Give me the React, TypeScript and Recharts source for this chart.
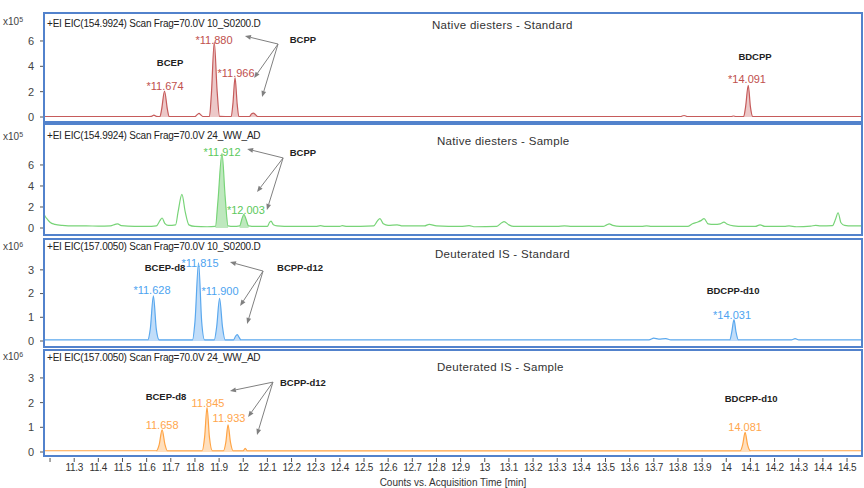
import React from "react";
import { ComposedChart, Area, Line, XAxis, YAxis, ReferenceDot, ReferenceLine } from "recharts";

const FONT = "'Liberation Sans', Arial, sans-serif";
const T_MIN = 11.175;
const T_MAX = 14.562;

const TIME_TICKS = [11.2, 11.3, 11.4, 11.5, 11.6, 11.7, 11.8, 11.9, 12, 12.1, 12.2, 12.3, 12.4, 12.5, 12.6, 12.7, 12.8, 12.9, 13, 13.1, 13.2, 13.3, 13.4, 13.5, 13.6, 13.7, 13.8, 13.9, 14, 14.1, 14.2, 14.3, 14.4, 14.5];
const TIME_TICK_LABELS = ["", "11.3", "11.4", "11.5", "11.6", "11.7", "11.8", "11.9", "12", "12.1", "12.2", "12.3", "12.4", "12.5", "12.6", "12.7", "12.8", "12.9", "13", "13.1", "13.2", "13.3", "13.4", "13.5", "13.6", "13.7", "13.8", "13.9", "14", "14.1", "14.2", "14.3", "14.4", "14.5"];
const X_TITLE = "Counts vs. Acquisition Time [min]";

type Pt = [number, number];
type Ann = { t: number; v: number; text: string };
type Arr = { from: Pt; to: Pt };

// ---------- Panel 1 : Native diesters - Standard (x10^5) ----------
const NATIVE_STD_TRACE: Pt[] = [
  [11.175, 0.03], [11.6, 0.03], [11.62, 0.05], [11.63, 0.15], [11.64, 0.05], [11.655, 0.03],
  [11.662, 0.6], [11.674, 2.05], [11.686, 0.6], [11.693, 0.03], [11.8, 0.03], [11.81, 0.2],
  [11.817, 0.28], [11.825, 0.15], [11.835, 0.03], [11.86, 0.03], [11.868, 1.8], [11.88, 5.9],
  [11.892, 2.0], [11.902, 0.05], [11.95, 0.03], [11.957, 1.0], [11.966, 3.1], [11.975, 1.0],
  [11.982, 0.03], [12.025, 0.03], [12.035, 0.25], [12.042, 0.3], [12.05, 0.2], [12.06, 0.03],
  [13.81, 0.03], [13.825, 0.12], [13.84, 0.03], [14.02, 0.03], [14.03, 0.08], [14.04, 0.03],
  [14.072, 0.03], [14.08, 0.8], [14.091, 2.5], [14.1, 0.8], [14.11, 0.03], [14.562, 0.03],
];
const NATIVE_STD_FILLS: Pt[] = [[11.655, 11.693], [11.86, 11.902], [11.95, 11.982], [12.025, 12.06], [14.072, 14.11]];
const NATIVE_STD_PEAKS: Ann[] = [
  { t: 11.676, v: 2.45, text: "*11.674" },
  { t: 11.879, v: 6.08, text: "*11.880" },
  { t: 11.97, v: 3.47, text: "*11.966" },
  { t: 14.086, v: 3.0, text: "*14.091" },
];
const NATIVE_STD_NAMES: Ann[] = [
  { t: 11.697, v: 4.34, text: "BCEP" },
  { t: 12.247, v: 6.08, text: "BCPP" },
  { t: 14.119, v: 4.81, text: "BDCPP" },
];
const NATIVE_STD_ARROWS: Arr[] = [
  { from: [12.144, 5.76], to: [12.007, 6.39] },
  { from: [12.144, 5.76], to: [12.045, 3.08] },
  { from: [12.144, 5.76], to: [12.078, 1.58] },
];

// ---------- Panel 2 : Native diesters - Sample (x10^5) ----------
const NATIVE_SMP_TRACE: Pt[] = [
  [11.175, 1.3], [11.18, 1.1], [11.19, 0.8], [11.2, 0.55], [11.22, 0.35], [11.25, 0.25], [11.3, 0.2],
  [11.35, 0.2], [11.4, 0.18], [11.45, 0.2], [11.47, 0.35], [11.48, 0.4], [11.495, 0.22], [11.55, 0.15],
  [11.6, 0.15], [11.64, 0.2], [11.655, 0.7], [11.664, 0.95], [11.675, 0.45], [11.69, 0.25], [11.72, 0.3],
  [11.73, 1.5], [11.746, 3.2], [11.76, 1.5], [11.775, 0.3], [11.8, 0.15], [11.85, 0.12], [11.885, 0.15],
  [11.895, 2.5], [11.912, 7.1], [11.925, 3.0], [11.937, 0.2], [11.96, 0.15], [11.985, 0.2], [11.995, 0.9],
  [12.003, 1.3], [12.012, 0.8], [12.022, 0.2], [12.05, 0.15], [12.1, 0.15], [12.108, 0.5], [12.115, 0.65],
  [12.125, 0.3], [12.14, 0.2], [12.2, 0.15], [12.3, 0.15], [12.32, 0.22], [12.34, 0.15], [12.4, 0.15],
  [12.41, 0.22], [12.43, 0.15], [12.54, 0.2], [12.555, 0.65], [12.566, 0.9], [12.58, 0.4], [12.6, 0.25],
  [12.637, 0.3], [12.66, 0.2], [12.75, 0.2], [12.77, 0.35], [12.8, 0.2], [12.9, 0.15], [12.935, 0.22],
  [12.96, 0.12], [13.05, 0.15], [13.07, 0.5], [13.08, 0.6], [13.1, 0.3], [13.12, 0.15], [13.3, 0.15],
  [13.33, 0.2], [13.36, 0.15], [13.49, 0.15], [13.505, 0.3], [13.515, 0.4], [13.53, 0.25], [13.56, 0.15],
  [13.65, 0.15], [13.67, 0.2], [13.69, 0.15], [13.84, 0.15], [13.86, 0.4], [13.88, 0.55], [13.895, 0.7],
  [13.908, 0.9], [13.925, 0.4], [13.95, 0.35], [13.975, 0.4], [13.99, 0.55], [14.005, 0.35], [14.03, 0.2],
  [14.07, 0.15], [14.12, 0.15], [14.14, 0.3], [14.16, 0.15], [14.24, 0.15], [14.26, 0.2], [14.29, 0.12],
  [14.35, 0.18], [14.37, 0.25], [14.39, 0.2], [14.44, 0.22], [14.452, 0.8], [14.463, 1.45], [14.475, 0.5],
  [14.49, 0.25], [14.52, 0.2], [14.562, 0.2],
];
const NATIVE_SMP_FILLS: Pt[] = [[11.885, 11.937], [11.985, 12.022]];
const NATIVE_SMP_PEAKS: Ann[] = [
  { t: 11.912, v: 7.24, text: "*11.912" },
  { t: 12.011, v: 1.71, text: "*12.003" },
];
const NATIVE_SMP_NAMES: Ann[] = [{ t: 12.247, v: 7.14, text: "BCPP" }];
const NATIVE_SMP_ARROWS: Arr[] = [
  { from: [12.165, 6.67], to: [12.016, 7.52] },
  { from: [12.165, 6.67], to: [12.057, 3.43] },
  { from: [12.165, 6.67], to: [12.098, 1.71] },
];

// ---------- Panel 3 : Deuterated IS - Standard (x10^6) ----------
const DEUT_STD_TRACE: Pt[] = [
  [11.175, 0.05], [11.605, 0.05], [11.615, 0.5], [11.628, 1.9], [11.64, 0.5], [11.652, 0.05],
  [11.79, 0.05], [11.8, 0.8], [11.815, 3.3], [11.828, 0.8], [11.84, 0.05], [11.88, 0.05],
  [11.89, 0.6], [11.902, 1.8], [11.914, 0.6], [11.925, 0.05], [11.96, 0.05], [11.968, 0.2],
  [11.975, 0.27], [11.983, 0.15], [11.99, 0.05], [13.68, 0.05], [13.7, 0.12], [13.72, 0.08],
  [13.75, 0.1], [13.77, 0.05], [14.015, 0.05], [14.023, 0.4], [14.032, 0.9], [14.04, 0.4],
  [14.05, 0.05], [14.27, 0.05], [14.285, 0.1], [14.3, 0.05], [14.562, 0.05],
];
const DEUT_STD_FILLS: Pt[] = [[11.605, 11.652], [11.79, 11.84], [11.88, 11.925], [11.96, 11.99], [14.015, 14.05]];
const DEUT_STD_PEAKS: Ann[] = [
  { t: 11.622, v: 2.15, text: "*11.628" },
  { t: 11.821, v: 3.29, text: "*11.815" },
  { t: 11.904, v: 2.11, text: "*11.900" },
  { t: 14.024, v: 1.1, text: "*14.031" },
];
const DEUT_STD_NAMES: Ann[] = [
  { t: 11.676, v: 3.08, text: "BCEP-d8" },
  { t: 12.235, v: 3.08, text: "BCPP-d12" },
  { t: 14.028, v: 2.11, text: "BDCPP-d10" },
];
const DEUT_STD_ARROWS: Arr[] = [
  { from: [12.082, 2.95], to: [11.945, 3.33] },
  { from: [12.082, 2.95], to: [11.987, 1.48] },
  { from: [12.082, 2.95], to: [12.016, 0.72] },
];

// ---------- Panel 4 : Deuterated IS - Sample (x10^6) ----------
const DEUT_SMP_TRACE: Pt[] = [
  [11.175, 0.05], [11.64, 0.05], [11.652, 0.3], [11.664, 0.9], [11.676, 0.3], [11.686, 0.05],
  [11.83, 0.05], [11.84, 0.6], [11.85, 1.8], [11.86, 0.6], [11.872, 0.05], [11.918, 0.05],
  [11.928, 0.4], [11.937, 1.1], [11.947, 0.4], [11.958, 0.05], [12.0, 0.05], [12.008, 0.15],
  [12.017, 0.05], [14.058, 0.05], [14.068, 0.3], [14.078, 0.8], [14.088, 0.3], [14.1, 0.05],
  [14.562, 0.05],
];
const DEUT_SMP_FILLS: Pt[] = [[11.64, 11.686], [11.83, 11.872], [11.918, 11.958], [12.0, 12.017], [14.058, 14.1]];
const DEUT_SMP_PEAKS: Ann[] = [
  { t: 11.664, v: 1.09, text: "11.658" },
  { t: 11.854, v: 1.98, text: "11.845" },
  { t: 11.941, v: 1.38, text: "11.933" },
  { t: 14.078, v: 1.01, text: "14.081" },
];
const DEUT_SMP_NAMES: Ann[] = [
  { t: 11.68, v: 2.23, text: "BCEP-d8" },
  { t: 12.247, v: 2.83, text: "BCPP-d12" },
  { t: 14.103, v: 2.15, text: "BDCPP-d10" },
];
const DEUT_SMP_ARROWS: Arr[] = [
  { from: [12.123, 2.83], to: [11.945, 2.47] },
  { from: [12.123, 2.83], to: [12.02, 1.42] },
  { from: [12.123, 2.83], to: [12.057, 0.69] },
];

const TITLES = [
  "+EI EIC(154.9924) Scan Frag=70.0V 10_S0200.D",
  "+EI EIC(154.9924) Scan Frag=70.0V 24_WW_AD",
  "+EI EIC(157.0050) Scan Frag=70.0V 10_S0200.D",
  "+EI EIC(157.0050) Scan Frag=70.0V 24_WW_AD",
];
const SUBTITLES = ["Native diesters - Standard", "Native diesters - Sample", "Deuterated IS - Standard", "Deuterated IS - Sample"];
const EXPONENTS = ["5", "5", "6", "6"];

const Arrow = (p: any) => {
  const { x1, y1, x2, y2 } = p;
  if ([x1, y1, x2, y2].some((v) => typeof v !== "number" || isNaN(v))) return null;
  const ang = Math.atan2(y2 - y1, x2 - x1);
  const L = 6;
  const W = 2.4;
  const bx = x2 - L * Math.cos(ang);
  const by = y2 - L * Math.sin(ang);
  const px = -Math.sin(ang) * W;
  const py = Math.cos(ang) * W;
  return (
    <g>
      <line x1={x1} y1={y1} x2={bx} y2={by} stroke="#808080" strokeWidth={1} />
      <polygon points={`${x2},${y2} ${bx + px},${by + py} ${bx - px},${by - py}`} fill="#808080" />
    </g>
  );
};

const textShape = (text: string, color: string, size: number, weight: string | number) => (p: any) => (
  <text x={p.cx} y={p.cy} textAnchor="middle" dominantBaseline="central" fill={color} fontSize={size} fontWeight={weight} fontFamily={FONT}>
    {text}
  </text>
);

const XTick = (p: any) => {
  const { x, y, payload } = p;
  const idx = TIME_TICKS.indexOf(payload.value);
  const label = idx >= 0 ? TIME_TICK_LABELS[idx] : "";
  return (
    <g>
      <line x1={x} y1={y + 6} x2={x} y2={y + 10} stroke="#555" strokeWidth={1} />
      <text x={x} y={y + 19} textAnchor="middle" fill="#333" fontSize={10} fontFamily={FONT} letterSpacing={-0.3}>
        {label}
      </text>
    </g>
  );
};

type PanelProps = {
  top: number; height: number; mTop: number; mBottom: number; yMax: number; yTicks: number[];
  trace: Pt[]; fills: Pt[]; color: string; fillColor: string; labelColor: string;
  peaks: Ann[]; names: Ann[]; arrows: Arr[]; showX: boolean;
};

function Panel(props: PanelProps) {
  const { top, height, mTop, mBottom, yMax, yTicks, trace, fills, color, fillColor, labelColor, peaks, names, arrows, showX } = props;
  const rows = trace.map(([t, v]) => ({
    t,
    v,
    f: fills.some(([a, b]) => t >= a - 1e-9 && t <= b + 1e-9) ? v : null,
  }));
  return (
    <div style={{ position: "absolute", left: 0, top }}>
      <ComposedChart width={864} height={height} data={rows} margin={{ top: mTop, right: 2, bottom: mBottom, left: 8 }}>
        <XAxis
          type="number"
          dataKey="t"
          domain={[T_MIN, T_MAX]}
          allowDataOverflow
          hide={!showX}
          ticks={TIME_TICKS}
          interval={0}
          tick={<XTick />}
          tickLine={false}
          axisLine={false}
          tickSize={0}
          tickMargin={0}
          height={36}
          label={{ value: X_TITLE, position: "insideBottom", offset: 2, fill: "#333", fontSize: 10, fontFamily: FONT }}
        />
        <YAxis
          type="number"
          domain={[0, yMax]}
          allowDataOverflow
          ticks={yTicks}
          interval={0}
          width={36}
          tickSize={4}
          tickMargin={6}
          tick={{ fontSize: 11, fill: "#444", fontFamily: FONT }}
          tickLine={{ stroke: "#555" }}
          axisLine={{ stroke: "#8a9bb5" }}
        />
        <Area type="monotone" dataKey="f" stroke="none" fill={fillColor} fillOpacity={1} connectNulls={false} isAnimationActive={false} dot={false} activeDot={false} />
        <Line type="monotone" dataKey="v" stroke={color} strokeWidth={1.2} dot={false} activeDot={false} isAnimationActive={false} />
        {arrows.map((a, i) => (
          <ReferenceLine key={"a" + i} segment={[{ x: a.from[0], y: a.from[1] }, { x: a.to[0], y: a.to[1] }]} ifOverflow="visible" shape={Arrow} />
        ))}
        {peaks.map((a, i) => (
          <ReferenceDot key={"p" + i} x={a.t} y={a.v} r={1} ifOverflow="visible" shape={textShape(a.text, labelColor, 11, "normal")} />
        ))}
        {names.map((a, i) => (
          <ReferenceDot key={"n" + i} x={a.t} y={a.v} r={1} ifOverflow="visible" shape={textShape(a.text, "#222", 9.5, "bold")} />
        ))}
      </ComposedChart>
    </div>
  );
}

const BORDERS = [
  { top: 12, height: 111 },
  { top: 123, height: 113 },
  { top: 238, height: 110 },
  { top: 349, height: 108 },
];
const TITLE_Y = [24, 136, 247, 358];
const SUB_POS = [{ x: 432, y: 25 }, { x: 437, y: 141 }, { x: 435, y: 254 }, { x: 437, y: 367 }];
const EXP_Y = [22, 137, 247, 357];

export default function App() {
  return (
    <div style={{ position: "absolute", left: 0, top: 0, width: 864, height: 488, background: "#fff", fontFamily: FONT, overflow: "hidden" }}>
      <Panel top={0} height={122} mTop={33} mBottom={5} yMax={6.63} yTicks={[0, 2, 4, 6]}
        trace={NATIVE_STD_TRACE} fills={NATIVE_STD_FILLS} color="#C65B5B" fillColor="rgba(205,110,110,0.38)" labelColor="#C0504D"
        peaks={NATIVE_STD_PEAKS} names={NATIVE_STD_NAMES} arrows={NATIVE_STD_ARROWS} showX={false} />
      <Panel top={122} height={113} mTop={25} mBottom={7} yMax={7.71} yTicks={[0, 2, 4, 6]}
        trace={NATIVE_SMP_TRACE} fills={NATIVE_SMP_FILLS} color="#78D478" fillColor="rgba(110,205,110,0.45)" labelColor="#5CC95C"
        peaks={NATIVE_SMP_PEAKS} names={NATIVE_SMP_NAMES} arrows={NATIVE_SMP_ARROWS} showX={false} />
      <Panel top={236} height={110} mTop={22} mBottom={5} yMax={3.5} yTicks={[0, 1, 2, 3]}
        trace={DEUT_STD_TRACE} fills={DEUT_STD_FILLS} color="#5AA8EE" fillColor="rgba(100,170,240,0.4)" labelColor="#4DA3F0"
        peaks={DEUT_STD_PEAKS} names={DEUT_STD_NAMES} arrows={DEUT_STD_ARROWS} showX={false} />
      <Panel top={346} height={142} mTop={26} mBottom={0} yMax={3.24} yTicks={[0, 1, 2, 3]}
        trace={DEUT_SMP_TRACE} fills={DEUT_SMP_FILLS} color="#FFA445" fillColor="rgba(255,175,90,0.4)" labelColor="#FFA64D"
        peaks={DEUT_SMP_PEAKS} names={DEUT_SMP_NAMES} arrows={DEUT_SMP_ARROWS} showX={true} />
      {BORDERS.map((b, i) => (
        <div key={"b" + i} style={{ position: "absolute", left: 43, top: b.top, width: 820, height: b.height, boxSizing: "border-box", border: "2px solid #5282CC", pointerEvents: "none" }} />
      ))}
      {TITLES.map((t, i) => (
        <div key={"t" + i} style={{ position: "absolute", left: 47, top: TITLE_Y[i] - 6, fontSize: 10, lineHeight: "12px", color: "#222", whiteSpace: "nowrap", letterSpacing: -0.2 }}>
          {t}
        </div>
      ))}
      {SUBTITLES.map((t, i) => (
        <div key={"s" + i} style={{ position: "absolute", left: SUB_POS[i].x, top: SUB_POS[i].y - 7, fontSize: 11.5, lineHeight: "14px", color: "#333", whiteSpace: "nowrap", letterSpacing: 0.3 }}>
          {t}
        </div>
      ))}
      {EXPONENTS.map((e, i) => (
        <div key={"e" + i} style={{ position: "absolute", left: 3, top: EXP_Y[i] - 6, fontSize: 10, lineHeight: "12px", color: "#444", whiteSpace: "nowrap" }}>
          x10<span style={{ fontSize: 7, verticalAlign: "top", position: "relative", top: -2 }}>{e}</span>
        </div>
      ))}
    </div>
  );
}
